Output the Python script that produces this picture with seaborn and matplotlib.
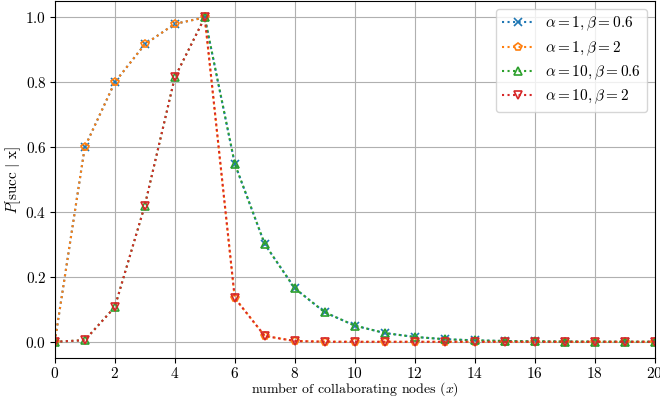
import matplotlib
matplotlib.use("Agg")
import matplotlib.pyplot as plt
import pandas as pd
import seaborn as sns

# LaTeX-like look without a TeX install
plt.rcParams['font.family'] = ['cmr10', 'DejaVu Serif']
plt.rcParams['mathtext.fontset'] = 'cm'
plt.rcParams['axes.formatter.use_mathtext'] = True
plt.rcParams['font.size'] = 10

nodes = list(range(21))

# values
p_a1_b06 = [0.0, 0.6, 0.8, 0.917, 0.98, 1.0, 0.549, 0.301, 0.165, 0.091, 0.050,
            0.027, 0.015, 0.008, 0.0045, 0.0025, 0.0014, 0.0008, 0.0004, 0.0002, 0.0001]
p_a1_b2 = [0.0, 0.6, 0.8, 0.917, 0.98, 1.0, 0.135, 0.018, 0.0025, 0.0003, 0.0,
           0.0, 0.0, 0.0, 0.0, 0.0, 0.0, 0.0, 0.0, 0.0, 0.0]
p_a10_b06 = [0.0, 0.005, 0.107, 0.42, 0.815, 1.0, 0.549, 0.301, 0.165, 0.091, 0.050,
             0.027, 0.015, 0.008, 0.0045, 0.0025, 0.0014, 0.0008, 0.0004, 0.0002, 0.0001]
p_a10_b2 = [0.0, 0.005, 0.107, 0.42, 0.815, 1.0, 0.135, 0.018, 0.0025, 0.0003, 0.0,
            0.0, 0.0, 0.0, 0.0, 0.0, 0.0, 0.0, 0.0, 0.0, 0.0]

labels = [r'$\alpha=1, \beta=0.6$', r'$\alpha=1, \beta=2$',
          r'$\alpha=10, \beta=0.6$', r'$\alpha=10, \beta=2$']
series = [p_a1_b06, p_a1_b2, p_a10_b06, p_a10_b2]
markers = ['x', 'p', '^', 'v']
colors = sns.color_palette('tab10', 4)

fig, ax = plt.subplots(figsize=(6.6, 4.05), dpi=100)
fig.subplots_adjust(left=0.083, right=0.992, top=0.997, bottom=0.116)

for vals, lab, mk, c in zip(series, labels, markers, colors):
    df = pd.DataFrame({'x': nodes, 'p': vals})
    sns.lineplot(data=df, x='x', y='p', ax=ax, label=lab, color=c,
                 linestyle=':', marker=mk, markersize=5.5,
                 markerfacecolor='none', markeredgecolor=c, markeredgewidth=1.2)

ax.set_xlim(0, 20)
ax.set_ylim(-0.05, 1.05)
ax.set_xticks(range(0, 21, 2))
ax.tick_params(labelsize=11, pad=2.5)
ax.grid(True)
ax.set_xlabel(r'number of collaborating nodes ($x$)', labelpad=-1)
ax.set_ylabel(r'$P[\mathrm{succ}\ |\ \mathrm{x}]$', fontsize=11, labelpad=2)
ax.legend(loc='upper right', fontsize=11, labelspacing=0.38)

fig.savefig('out.png', dpi=100)
